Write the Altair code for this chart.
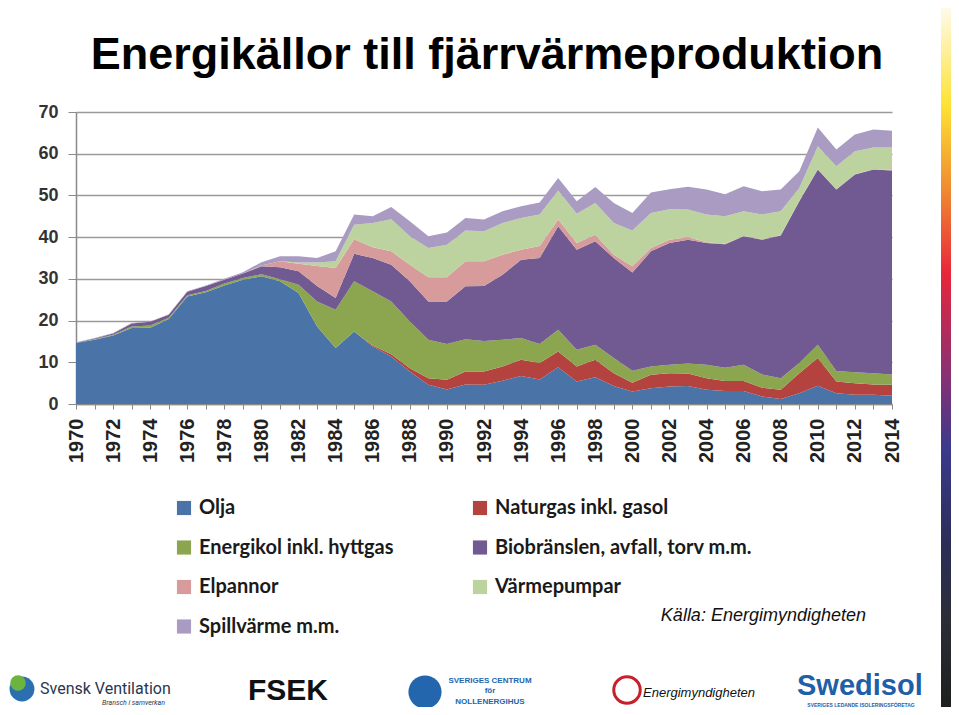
import altair as alt
import pandas as pd

years = list(range(1970, 2015))

series_names = [
    "Olja",
    "Naturgas inkl. gasol",
    "Energikol inkl. hyttgas",
    "Biobränslen, avfall, torv m.m.",
    "Elpannor",
    "Värmepumpar",
    "Spillvärme m.m.",
]
series_colors = ["#4a74a8", "#b4423f", "#8ca64f", "#715a91", "#d69b9a", "#bdd39f", "#a99bc2"]
# legend is laid out column by column (4 rows x 2 columns)
legend_order = [0, 2, 4, 6, 1, 3, 5]

olja = [14.6, 15.4, 16.4, 18.2, 18.3, 20.4, 25.8, 26.8, 28.4, 29.8,
        30.6, 29.4, 26.6, 18.6, 13.4, 17.4, 13.8, 11.4, 7.8, 4.6,
        3.5, 4.7, 4.6, 5.6, 6.7, 5.9, 8.8, 5.4, 6.4, 4.3,
        3.0, 3.8, 4.2, 4.3, 3.4, 3.1, 3.1, 1.8, 1.2, 2.6,
        4.4, 2.6, 2.2, 2.2, 2.0]
naturgas = [0, 0, 0, 0, 0, 0, 0, 0, 0, 0,
            0, 0, 0, 0, 0, 0, 0.2, 0.5, 0.8, 1.6,
            2.3, 3.1, 3.2, 3.4, 3.9, 3.9, 3.8, 3.6, 4.2, 3.1,
            2.1, 3.2, 3.2, 3.0, 2.8, 2.4, 2.4, 2.1, 2.2, 4.8,
            6.6, 2.8, 2.8, 2.5, 2.6]
energikol = [0, 0.1, 0.2, 0.4, 0.5, 0.3, 0.3, 0.3, 0.5, 0.4,
             0.5, 0.5, 2.0, 6.0, 9.2, 12.0, 13.0, 12.7, 11.2, 9.2,
             8.6, 7.7, 7.3, 6.4, 5.2, 4.6, 5.2, 4.0, 3.6, 3.6,
             2.9, 2.0, 2.0, 2.4, 3.2, 3.2, 3.9, 3.2, 2.8, 2.4,
             3.2, 2.5, 2.6, 2.7, 2.5]
biobransle = [0.1, 0.2, 0.3, 0.7, 0.9, 0.7, 0.8, 1.2, 0.9, 1.1,
              1.9, 2.9, 3.2, 3.7, 2.8, 6.6, 8.0, 8.8, 9.6, 9.2,
              10.2, 12.7, 13.2, 15.6, 18.8, 20.6, 24.8, 24.0, 24.8, 24.0,
              23.5, 27.6, 29.2, 29.7, 29.2, 29.6, 30.8, 32.3, 34.2, 38.8,
              42.0, 43.5, 47.4, 48.8, 48.9]
elpannor = [0, 0, 0, 0, 0, 0, 0, 0, 0, 0,
            0.2, 1.4, 1.8, 4.8, 7.2, 3.5, 2.6, 3.2, 4.0, 5.8,
            5.8, 6.0, 5.9, 4.8, 2.4, 2.9, 1.6, 1.6, 1.6, 0.8,
            1.5, 0.8, 0.8, 0.6, 0.2, 0.1, 0.1, 0.1, 0.1, 0.1,
            0.1, 0.1, 0.1, 0.1, 0.1]
varmepumpar = [0, 0, 0, 0, 0, 0, 0, 0, 0, 0,
               0, 0, 0.3, 0.8, 1.6, 3.5, 5.8, 7.7, 6.8, 7.0,
               7.8, 7.4, 7.2, 7.6, 7.6, 7.5, 7.0, 7.0, 7.6, 7.6,
               8.6, 8.4, 7.3, 6.6, 6.6, 6.6, 5.9, 5.9, 5.7, 3.1,
               5.5, 5.5, 5.5, 5.2, 5.4]
spillvarme = [0.1, 0.1, 0.1, 0.1, 0.1, 0.1, 0.1, 0.1, 0.2, 0.3,
              0.8, 1.2, 1.5, 1.1, 2.4, 2.4, 1.6, 2.9, 3.6, 2.8,
              2.9, 3.0, 2.8, 2.8, 2.8, 2.9, 3.0, 3.0, 3.8, 4.8,
              4.2, 4.9, 4.8, 5.5, 6.0, 5.3, 6.0, 5.6, 5.2, 4.0,
              4.5, 4.0, 4.0, 4.3, 4.0]

title_text = "Energikällor till fjärrvärmeproduktion"
source_text = "Källa: Energimyndigheten"

all_series = [olja, naturgas, energikol, biobransle, elpannor, varmepumpar, spillvarme]
rows = []
for idx, (name, vals) in enumerate(zip(series_names, all_series)):
    for yr, v in zip(years, vals):
        rows.append({"year": yr, "serie": name, "value": v, "idx": idx})
df = pd.DataFrame(rows)

W, H = 816, 292

areas = alt.Chart(df).mark_area(opacity=1, strokeWidth=0).encode(
    x=alt.X("year:Q",
            scale=alt.Scale(domain=[1970, 2014], nice=False, zero=False),
            axis=alt.Axis(values=years, format="d",
                          labelExpr="datum.value % 2 == 0 ? datum.label : ''",
                          labelAngle=270, labelAlign="right", labelBaseline="middle",
                          labelFont="Liberation Sans", labelFontSize=20, labelFontWeight="bold",
                          labelColor="#222222", labelPadding=9, labelOverlap=False,
                          labelFlush=False, tickSize=5, tickColor="#8a8a8a",
                          domainColor="#8a8a8a", domainWidth=1.5, grid=False, title=None)),
    y=alt.Y("value:Q", stack="zero",
            scale=alt.Scale(domain=[0, 70], nice=False),
            axis=alt.Axis(values=list(range(0, 71, 10)), labelFont="Liberation Sans",
                          labelFontSize=18, labelFontWeight="bold", labelColor="#333333",
                          labelPadding=10, tickSize=8, tickColor="#8a8a8a",
                          domainColor="#8a8a8a", domainWidth=1.5,
                          gridColor="#9a9a9a", gridWidth=1.3, title=None)),
    color=alt.Color("serie:N",
                    scale=alt.Scale(domain=[series_names[i] for i in legend_order],
                                    range=[series_colors[i] for i in legend_order]),
                    legend=alt.Legend(orient="none", legendX=98, legendY=386, columns=2,
                                      title=None, symbolType="square", symbolSize=200,
                                      symbolStrokeWidth=0, symbolOpacity=1,
                                      labelFont="Lato", labelFontSize=20, labelFontWeight="bold",
                                      labelColor="#1a1a1a",
                                      labelLimit=400, rowPadding=19.5, columnPadding=76,
                                      labelOffset=5)),
    order=alt.Order("idx:Q", sort="ascending"),
)

one = pd.DataFrame({"t": [title_text]})
title_layer = alt.Chart(one).mark_text(
    font="Liberation Sans", fontSize=45, fontWeight="bold", color="#000000",
    align="center", baseline="alphabetic"
).encode(text="t:N", x=alt.value(411), y=alt.value(-43))

src = pd.DataFrame({"t": [source_text]})
source_layer = alt.Chart(src).mark_text(
    font="Liberation Sans", fontSize=18, fontStyle="italic", color="#111111",
    align="right", baseline="alphabetic"
).encode(text="t:N", x=alt.value(790), y=alt.value(509))

# gradient strip on the right edge (slide decoration)
strip = alt.Chart(pd.DataFrame({"a": [1]})).mark_rect(
    fill=alt.LinearGradient(
        gradient="linear", x1=0, x2=0, y1=0, y2=1,
        stops=[alt.GradientStop(color="#fffaea", offset=0),
               alt.GradientStop(color="#fde233", offset=0.14),
               alt.GradientStop(color="#f08a30", offset=0.26),
               alt.GradientStop(color="#e8263a", offset=0.38),
               alt.GradientStop(color="#8c3072", offset=0.52),
               alt.GradientStop(color="#3b3a8c", offset=0.63),
               alt.GradientStop(color="#2c2e5a", offset=0.76),
               alt.GradientStop(color="#2b2d36", offset=0.88),
               alt.GradientStop(color="#1c201e", offset=1.0)])
).encode(x=alt.value(865), x2=alt.value(880), y=alt.value(-104), y2=alt.value(595))

# logo texts at the bottom
logo_df = pd.DataFrame({
    "t": ["Svensk Ventilation", "Bransch i samverkan", "FSEK",
          "SVERIGES CENTRUM", "för", "NOLLENERGIHUS",
          "Energimyndigheten", "Swedisol", "SVERIGES LEDANDE ISOLERINGSFÖRETAG"],
})
logo_pos = [(-36, 582, 16, "normal", "normal", "#27384f", "left", "Roboto"),
            (89, 593, 7, "normal", "italic", "#27384f", "right", "Roboto"),
            (172, 588, 30, "bold", "normal", "#111111", "left", "Liberation Sans"),
            (414, 571, 8, "bold", "normal", "#2466ad", "middle", "Liberation Sans"),
            (414, 581, 8, "bold", "normal", "#2466ad", "middle", "Liberation Sans"),
            (414, 592, 8, "bold", "normal", "#2466ad", "middle", "Liberation Sans"),
            (567, 585, 13, "normal", "italic", "#111111", "left", "Liberation Sans"),
            (721, 583, 29, "bold", "normal", "#1f5fa8", "left", "Liberation Sans"),
            (785, 594.5, 5, "bold", "normal", "#1f5fa8", "middle", "Liberation Sans")]
logo_layers = []
for i, (px, py, fs, fw, fst, col, al, fnt) in enumerate(logo_pos):
    a = "center" if al == "middle" else al
    logo_layers.append(
        alt.Chart(logo_df.iloc[[i]]).mark_text(
            font=fnt, fontSize=fs, fontWeight=fw, fontStyle=fst, color=col,
            align=a, baseline="alphabetic"
        ).encode(text="t:N", x=alt.value(px), y=alt.value(py))
    )

dots = pd.DataFrame({"k": ["sv1", "sv2", "nz", "em"]})
dot_layers = [
    alt.Chart(dots.iloc[[0]]).mark_point(filled=True, shape="circle", size=620, color="#2c6fb0", opacity=1)
    .encode(x=alt.value(-54), y=alt.value(577)),
    alt.Chart(dots.iloc[[1]]).mark_point(filled=True, shape="circle", size=240, color="#6cb33f", opacity=1)
    .encode(x=alt.value(-58), y=alt.value(571)),
    alt.Chart(dots.iloc[[2]]).mark_point(filled=True, shape="circle", size=1100, color="#2466ad", opacity=1)
    .encode(x=alt.value(349), y=alt.value(580)),
    alt.Chart(dots.iloc[[3]]).mark_point(filled=False, shape="circle", size=700, color="#c8202a",
                                         strokeWidth=3, opacity=1)
    .encode(x=alt.value(551), y=alt.value(578)),
]

chart = alt.layer(areas, title_layer, source_layer, strip, *logo_layers, *dot_layers).properties(
    width=W, height=H,
    autosize=alt.AutoSizeParams(type="none"),
    padding={"left": 68, "top": 104, "right": 59, "bottom": 303},
).configure_view(stroke=None)

chart.save("out.html", embed_options={"renderer": "svg", "actions": False})
